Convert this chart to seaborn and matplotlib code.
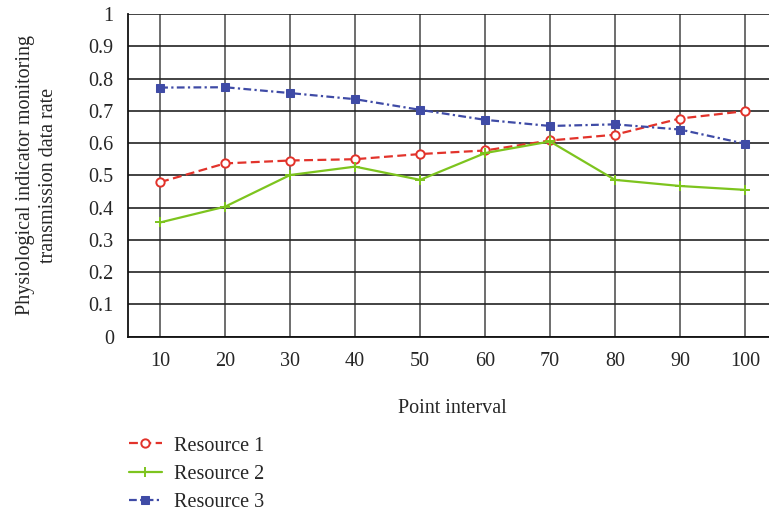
import matplotlib
matplotlib.use("Agg")
import matplotlib.pyplot as plt
import seaborn as sns
import pandas as pd

# values
intervals = [10, 20, 30, 40, 50, 60, 70, 80, 90, 100]
resource1 = [0.479, 0.537, 0.546, 0.550, 0.566, 0.577, 0.608, 0.626, 0.676, 0.699]
resource2 = [0.354, 0.403, 0.501, 0.527, 0.486, 0.569, 0.605, 0.486, 0.467, 0.455]
resource3 = [0.772, 0.773, 0.755, 0.736, 0.703, 0.672, 0.653, 0.658, 0.642, 0.598]
series_names = ['Resource 1', 'Resource 2', 'Resource 3']
y_ticks = [0, 0.1, 0.2, 0.3, 0.4, 0.5, 0.6, 0.7, 0.8, 0.9, 1]

df = pd.DataFrame({'pos': range(len(intervals)), 'interval': intervals,
                   'Resource 1': resource1, 'Resource 2': resource2,
                   'Resource 3': resource3})

sns.set_style('white')
plt.rcParams['font.family'] = ['Liberation Serif', 'DejaVu Serif']
FS = 14.5
plt.rcParams['font.size'] = FS

# per-series look: colour, dash pattern, marker options
styles = {
    'Resource 1': dict(color='#E2332B', dashes=(4, 2), marker='o', markersize=6,
                       markerfacecolor='white', markeredgecolor='#E2332B', markeredgewidth=1.4),
    'Resource 2': dict(color='#7DC41E', marker='+', markersize=7, markeredgewidth=1.4,
                       markeredgecolor='#7DC41E'),
    'Resource 3': dict(color='#3F4BA6', dashes=(3.5, 1.5, 1, 1.5), marker='s', markersize=5.5,
                       markerfacecolor='#3F4BA6', markeredgecolor='#3F4BA6'),
}

fig = plt.figure(figsize=(7.69, 5.13), dpi=100)
ax = fig.add_axes([0.166, 0.3437, 0.845, 0.629])

for name in series_names:
    sns.lineplot(data=df, x='pos', y=name, ax=ax, linewidth=1.6, label=name,
                 **styles[name])

ax.set_xlim(-0.5, 9.5)
ax.set_ylim(0, 1)
ax.set_xticks(range(len(intervals)))
ax.set_xticklabels([str(v) for v in intervals])
ax.set_yticks(y_ticks)
ax.set_yticklabels([f'{t:g}' for t in y_ticks])

ax.grid(True, axis='y', color='#222222', linewidth=1.2)
ax.grid(True, axis='x', color='#555555', linewidth=1.2)
ax.set_axisbelow(True)
for s in ['top', 'right']:
    ax.spines[s].set_visible(False)
for s in ['left', 'bottom']:
    ax.spines[s].set_color('#111111')
    ax.spines[s].set_linewidth(1.3)
ax.tick_params(axis='both', direction='out', length=6, width=1.2, color='#111111',
               labelsize=FS, pad=4)
ax.tick_params(axis='x', pad=5)

ax.set_xlabel('Point interval', fontsize=FS, labelpad=20)
ax.set_ylabel('Physiological indicator monitoring\ntransmission data rate', fontsize=FS,
              labelpad=22, linespacing=1.3)

handles, labels = ax.get_legend_handles_labels()
ax.get_legend().remove()
fig.legend(handles, labels, loc='upper left', bbox_to_anchor=(0.157, 0.165),
           frameon=False, fontsize=FS, handlelength=1.65, handletextpad=0.6,
           labelspacing=0.45, borderaxespad=0)

fig.savefig('out.png', dpi=100)
